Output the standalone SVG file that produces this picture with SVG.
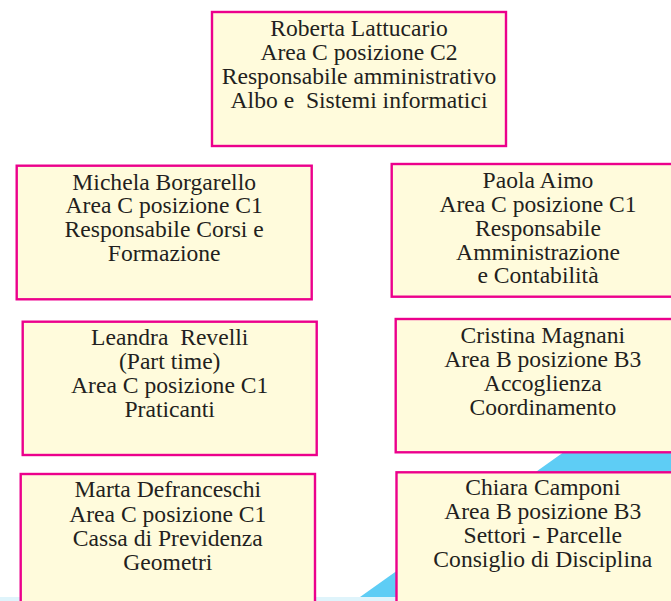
<svg xmlns="http://www.w3.org/2000/svg" width="671" height="601" viewBox="0 0 671 601">
  <style>
    .box { fill: #fffbdc; stroke: #ec008c; stroke-width: 2.4; }
    .t { font-family: "Liberation Serif", "Times New Roman", serif; font-size: 23.6px; fill: #231f20; text-anchor: middle; }
  </style>
  <rect x="0" y="0" width="671" height="601" fill="#ffffff"/>
  <g id="background">
    <polygon points="360,597 720,341 720,597" fill="#5ecdf5"/>
    <rect x="0" y="597" width="671" height="4" fill="#dff4fb"/>
  </g>
  <g id="connectors"/>
  <g id="node-lattucario">
    <rect class="box" x="212" y="12" width="294" height="134"/>
    <text class="t" x="359" xml:space="preserve"><tspan x="359" y="36">Roberta Lattucario</tspan><tspan x="359" y="60">Area C posizione C2</tspan><tspan x="359" y="84">Responsabile amministrativo</tspan><tspan x="359" y="107.5">Albo e  Sistemi informatici</tspan></text>
  </g>
  <g id="node-borgarello">
    <rect class="box" x="16.7" y="165.7" width="295" height="133.6"/>
    <text class="t"><tspan x="164.2" y="189.5">Michela Borgarello</tspan><tspan x="164.2" y="213.4">Area C posizione C1</tspan><tspan x="164.2" y="237.3">Responsabile Corsi e</tspan><tspan x="164.2" y="261.2">Formazione</tspan></text>
  </g>
  <g id="node-aimo">
    <rect class="box" x="391.7" y="164" width="292" height="132.7"/>
    <text class="t"><tspan x="538" y="187.6">Paola Aimo</tspan><tspan x="538" y="211.6">Area C posizione C1</tspan><tspan x="538" y="235.6">Responsabile</tspan><tspan x="538" y="259.6">Amministrazione</tspan><tspan x="538" y="283.4">e Contabilità</tspan></text>
  </g>
  <g id="node-revelli">
    <rect class="box" x="22.7" y="321.7" width="294" height="133.3"/>
    <text class="t" xml:space="preserve"><tspan x="169.7" y="345">Leandra  Revelli</tspan><tspan x="169.7" y="368.8">(Part time)</tspan><tspan x="169.7" y="392.7">Area C posizione C1</tspan><tspan x="169.7" y="416.6">Praticanti</tspan></text>
  </g>
  <g id="node-magnani">
    <rect class="box" x="395.7" y="319" width="294" height="133.3"/>
    <text class="t"><tspan x="542.8" y="343.3">Cristina Magnani</tspan><tspan x="542.8" y="367">Area B posizione B3</tspan><tspan x="542.8" y="390.8">Accoglienza</tspan><tspan x="542.8" y="414.5">Coordinamento</tspan></text>
  </g>
  <g id="node-defranceschi">
    <rect class="box" x="20.7" y="474" width="294.3" height="134"/>
    <text class="t"><tspan x="167.8" y="497">Marta Defranceschi</tspan><tspan x="167.8" y="521.5">Area C posizione C1</tspan><tspan x="167.8" y="545.8">Cassa di Previdenza</tspan><tspan x="167.8" y="569.8">Geometri</tspan></text>
  </g>
  <g id="node-camponi">
    <rect class="box" x="396.5" y="472.3" width="294" height="134"/>
    <text class="t"><tspan x="542.8" y="495.2">Chiara Camponi</tspan><tspan x="542.8" y="519.3">Area B posizione B3</tspan><tspan x="542.8" y="543.3">Settori - Parcelle</tspan><tspan x="542.8" y="567.3">Consiglio di Disciplina</tspan></text>
  </g>
</svg>
